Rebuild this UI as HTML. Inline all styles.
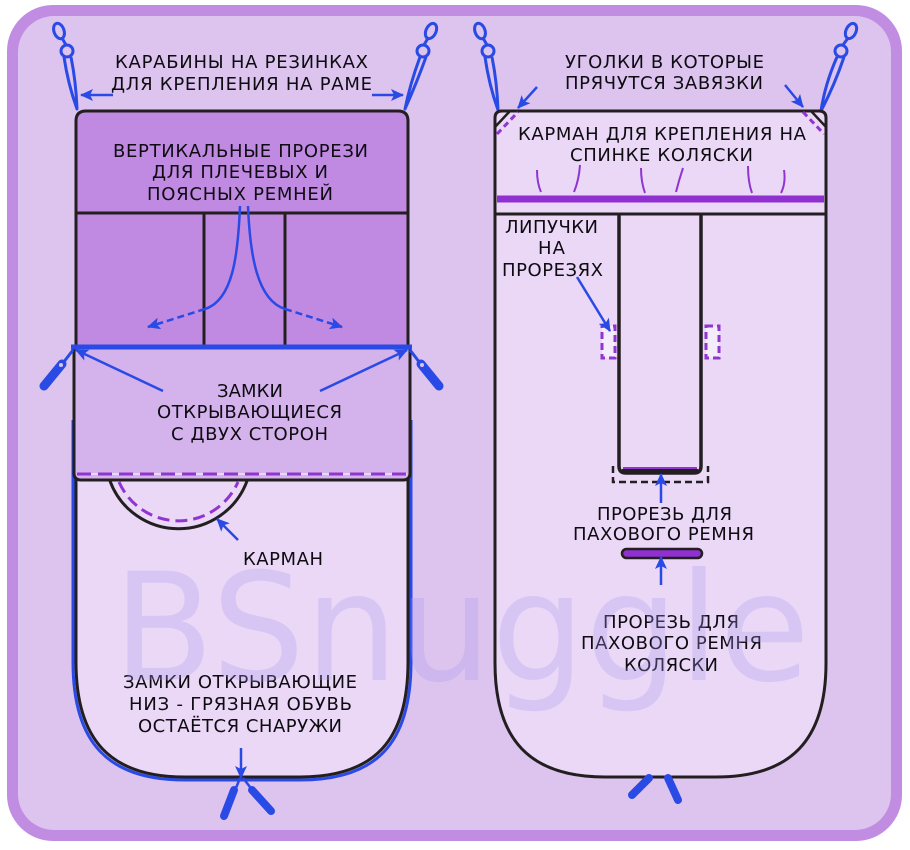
<!DOCTYPE html>
<html><head><meta charset="utf-8"><style>
html,body{margin:0;padding:0;background:#fff;}
svg{display:block;}
text{font-family:"DejaVu Sans","Liberation Sans",sans-serif;font-size:18px;fill:#0e0c12;}
</style></head><body>
<svg width="910" height="850" viewBox="0 0 910 850" xmlns="http://www.w3.org/2000/svg">
<defs>
<marker id="ah" markerUnits="userSpaceOnUse" markerWidth="14" markerHeight="12" refX="12" refY="6" orient="auto">
<path d="M0,0 L13,6 L0,12 L3,6 Z" fill="#2a4ae6"/>
</marker>
</defs>
<rect x="0" y="0" width="910" height="850" fill="#fff"/>
<rect x="7" y="5" width="895" height="836" rx="46" fill="#c18de2"/>
<rect x="18" y="16" width="873" height="814" rx="36" fill="#dcc4ee"/>

<!-- LEFT PANEL -->
<path d="M73,420 V662 C73,743 108,780 185,780 H300 C377,780 411,743 411,662 V420" fill="none" stroke="#2a4ae6" stroke-width="3"/>
<path d="M76,347 V662 C76,740 110,777 185,777 H300 C375,777 408,740 408,662 V347 Z" fill="#ead8f6" stroke="#231f20" stroke-width="3"/>
<path d="M86,111 H398 Q408,111 408,121 V347 H76 V121 Q76,111 86,111 Z" fill="#c08ae2" stroke="#231f20" stroke-width="3"/>
<line x1="76" y1="213" x2="408" y2="213" stroke="#231f20" stroke-width="3"/>
<line x1="204" y1="213" x2="204" y2="347" stroke="#231f20" stroke-width="3"/>
<line x1="285" y1="213" x2="285" y2="347" stroke="#231f20" stroke-width="3"/>
<!-- pocket -->
<path d="M110,481 A73,73 0 0 0 247,481" fill="#ead8f6" stroke="#231f20" stroke-width="3"/>
<path d="M119,482 A65,65 0 0 0 238,482" fill="none" stroke="#9035cf" stroke-width="3" stroke-dasharray="12 6"/>
<!-- zipper flap -->
<path d="M74,347 H410 V473 Q410,480 403,480 H81 Q74,480 74,473 Z" fill="#d4b3ec" stroke="#231f20" stroke-width="3"/>
<line x1="77" y1="474" x2="407" y2="474" stroke="#fff" stroke-width="1"/>
<line x1="77" y1="474" x2="407" y2="474" stroke="#9035cf" stroke-width="3" stroke-dasharray="14 7"/>
<!-- blue zipper top line -->
<line x1="71" y1="347" x2="412" y2="347" stroke="#2a4ae6" stroke-width="5"/>

<!-- curvy arrows -->
<path d="M240,206 C238,255 233,300 205,309" fill="none" stroke="#2a4ae6" stroke-width="2.5"/>
<path d="M205,309 L148,327" fill="none" stroke="#2a4ae6" stroke-width="2.5" stroke-dasharray="7 4" marker-end="url(#ah)"/>
<path d="M248,206 C250,255 257,300 285,309" fill="none" stroke="#2a4ae6" stroke-width="2.5"/>
<path d="M285,309 L342,327" fill="none" stroke="#2a4ae6" stroke-width="2.5" stroke-dasharray="7 4" marker-end="url(#ah)"/>

<!-- zipper arrows -->
<line x1="163" y1="391" x2="76" y2="350" stroke="#2a4ae6" stroke-width="2.5" marker-end="url(#ah)"/>
<line x1="320" y1="391" x2="407" y2="350" stroke="#2a4ae6" stroke-width="2.5" marker-end="url(#ah)"/>
<!-- side pulls -->
<line x1="73" y1="350" x2="63" y2="363" stroke="#2a4ae6" stroke-width="3"/>
<line x1="62" y1="364" x2="44" y2="386" stroke="#2a4ae6" stroke-width="9" stroke-linecap="round"/>
<circle cx="61" cy="365" r="2" fill="#dcc4ee"/>
<line x1="410" y1="350" x2="420" y2="363" stroke="#2a4ae6" stroke-width="3"/>
<line x1="421" y1="364" x2="439" y2="386" stroke="#2a4ae6" stroke-width="9" stroke-linecap="round"/>
<circle cx="422" cy="365" r="2" fill="#dcc4ee"/>

<!-- pocket arrow -->
<line x1="238" y1="540" x2="217" y2="519" stroke="#2a4ae6" stroke-width="2.5" marker-end="url(#ah)"/>
<!-- bottom arrow and pulls -->
<line x1="241" y1="748" x2="241" y2="778" stroke="#2a4ae6" stroke-width="2.5" marker-end="url(#ah)"/>
<line x1="240" y1="778" x2="236" y2="788" stroke="#2a4ae6" stroke-width="2.5"/>
<line x1="234" y1="790" x2="224" y2="816" stroke="#2a4ae6" stroke-width="8" stroke-linecap="round"/>
<line x1="243" y1="778" x2="250" y2="787" stroke="#2a4ae6" stroke-width="2.5"/>
<line x1="252" y1="790" x2="271" y2="811" stroke="#2a4ae6" stroke-width="8" stroke-linecap="round"/>

<!-- carabiners -->
<g fill="none" stroke="#2a4ae6" stroke-width="3" stroke-linejoin="round">
<!-- left panel left -->
<ellipse cx="59" cy="31" rx="5" ry="8" transform="rotate(-20 59 31)"/>
<line x1="62" y1="38" x2="66" y2="45"/>
<circle cx="67" cy="51" r="6" fill="#dcc4ee"/>
<path d="M64,57 Q68,84 77,109 Q76,82 71,57"/>
<!-- left panel right -->
<ellipse cx="431" cy="31" rx="5" ry="8" transform="rotate(25 431 31)"/>
<line x1="428" y1="38" x2="424" y2="45"/>
<circle cx="423" cy="51" r="6" fill="#dcc4ee"/>
<path d="M420,57 Q410,84 405,109 Q417,82 426,57"/>
<!-- right panel left -->
<ellipse cx="480" cy="31" rx="5" ry="8" transform="rotate(-20 480 31)"/>
<line x1="483" y1="38" x2="487" y2="45"/>
<circle cx="488" cy="51" r="6" fill="#dcc4ee"/>
<path d="M485,57 Q489,85 498,110 Q497,82 492,57"/>
<!-- right panel right -->
<ellipse cx="851" cy="31" rx="5" ry="8" transform="rotate(25 851 31)"/>
<line x1="848" y1="38" x2="843" y2="45"/>
<circle cx="841" cy="51" r="6" fill="#dcc4ee"/>
<path d="M837,57 Q825,84 821,111 Q835,84 844,57"/>
</g>
<line x1="113" y1="95" x2="81" y2="95" stroke="#2a4ae6" stroke-width="2.5" marker-end="url(#ah)"/>
<line x1="372" y1="95" x2="403" y2="95" stroke="#2a4ae6" stroke-width="2.5" marker-end="url(#ah)"/>

<!-- RIGHT PANEL -->
<path d="M495,118 Q495,111 502,111 H819 Q826,111 826,118 V663 C826,740 791,777 716,777 H605 C530,777 495,740 495,663 Z" fill="#ead8f6" stroke="#231f20" stroke-width="3"/>
<line x1="495" y1="127" x2="510" y2="111" stroke="#231f20" stroke-width="2.5"/>
<line x1="811" y1="111" x2="826" y2="127" stroke="#231f20" stroke-width="2.5"/>
<line x1="497" y1="134" x2="518" y2="112" stroke="#9035cf" stroke-width="3" stroke-dasharray="6 4"/>
<line x1="803" y1="112" x2="824" y2="134" stroke="#9035cf" stroke-width="3" stroke-dasharray="6 4"/>
<line x1="497" y1="199" x2="824" y2="199" stroke="#9030d0" stroke-width="7"/>
<line x1="495" y1="214" x2="826" y2="214" stroke="#231f20" stroke-width="3"/>
<!-- stitch marks -->
<g fill="none" stroke="#9035cf" stroke-width="2">
<path d="M537,170 Q537,183 541,192"/>
<path d="M580,165 Q579,180 574,192"/>
<path d="M641,168 Q641,182 645,193"/>
<path d="M683,168 Q679,180 676,192"/>
<path d="M748,166 Q748,182 752,193"/>
<path d="M784,170 Q786,183 781,193"/>
</g>
<!-- center strip -->
<path d="M613,466 V482 H708 V466" fill="none" stroke="#231f20" stroke-width="2.5" stroke-dasharray="7 4"/>
<path d="M619,214 V466 Q619,473 626,473 H694 Q701,473 701,466 V214" fill="none" stroke="#231f20" stroke-width="3.5"/>
<line x1="622" y1="471" x2="698" y2="471" stroke="#231f20" stroke-width="4"/>
<line x1="623" y1="468" x2="697" y2="468" stroke="#9035cf" stroke-width="2"/>
<!-- velcro -->
<rect x="602" y="326" width="13" height="32" fill="#f4ecfa" stroke="#9035cf" stroke-width="3" stroke-dasharray="7 4"/>
<rect x="706" y="326" width="13" height="32" fill="#f4ecfa" stroke="#9035cf" stroke-width="3" stroke-dasharray="7 4"/>
<!-- slot -->
<rect x="622" y="549" width="80" height="9" rx="4.5" fill="#9030d0" stroke="#231f20" stroke-width="2.5"/>
<!-- arrows right -->
<line x1="577" y1="277" x2="610" y2="331" stroke="#2a4ae6" stroke-width="2.5" marker-end="url(#ah)"/>
<line x1="661" y1="503" x2="661" y2="474" stroke="#2a4ae6" stroke-width="2.5" marker-end="url(#ah)"/>
<line x1="661" y1="585" x2="661" y2="557" stroke="#2a4ae6" stroke-width="2.5" marker-end="url(#ah)"/>
<line x1="537" y1="87" x2="518" y2="108" stroke="#2a4ae6" stroke-width="2.5" marker-end="url(#ah)"/>
<line x1="785" y1="85" x2="803" y2="107" stroke="#2a4ae6" stroke-width="2.5" marker-end="url(#ah)"/>
<!-- bottom pulls right -->
<line x1="649" y1="778" x2="632" y2="795" stroke="#2a4ae6" stroke-width="8" stroke-linecap="round"/>
<line x1="668" y1="778" x2="678" y2="800" stroke="#2a4ae6" stroke-width="8" stroke-linecap="round"/>

<!-- TEXT -->
<text x="115" y="68" textLength="253" lengthAdjust="spacing">КАРАБИНЫ НА РЕЗИНКАХ</text>
<text x="111" y="90" textLength="261" lengthAdjust="spacing">ДЛЯ КРЕПЛЕНИЯ НА РАМЕ</text>
<text x="113" y="157" textLength="255" lengthAdjust="spacing">ВЕРТИКАЛЬНЫЕ ПРОРЕЗИ</text>
<text x="152" y="178" textLength="176" lengthAdjust="spacing">ДЛЯ ПЛЕЧЕВЫХ И</text>
<text x="147" y="200" textLength="186" lengthAdjust="spacing">ПОЯСНЫХ РЕМНЕЙ</text>
<text x="217" y="397" textLength="66" lengthAdjust="spacing">ЗАМКИ</text>
<text x="157" y="418" textLength="185" lengthAdjust="spacing">ОТКРЫВАЮЩИЕСЯ</text>
<text x="171" y="440" textLength="157" lengthAdjust="spacing">С ДВУХ СТОРОН</text>
<text x="243" y="565" textLength="80" lengthAdjust="spacing">КАРМАН</text>
<text x="123" y="688" textLength="234" lengthAdjust="spacing">ЗАМКИ ОТКРЫВАЮЩИЕ</text>
<text x="129" y="710" textLength="223" lengthAdjust="spacing">НИЗ - ГРЯЗНАЯ ОБУВЬ</text>
<text x="138" y="732" textLength="204" lengthAdjust="spacing">ОСТАЁТСЯ СНАРУЖИ</text>

<text x="565" y="68" textLength="199" lengthAdjust="spacing">УГОЛКИ В КОТОРЫЕ</text>
<text x="565" y="89" textLength="198" lengthAdjust="spacing">ПРЯЧУТСЯ ЗАВЯЗКИ</text>
<text x="518" y="140" textLength="288" lengthAdjust="spacing">КАРМАН ДЛЯ КРЕПЛЕНИЯ НА</text>
<text x="570" y="161" textLength="183" lengthAdjust="spacing">СПИНКЕ КОЛЯСКИ</text>
<text x="505" y="233" textLength="93" lengthAdjust="spacing">ЛИПУЧКИ</text>
<text x="538" y="254" textLength="27" lengthAdjust="spacing">НА</text>
<text x="502" y="276" textLength="101" lengthAdjust="spacing">ПРОРЕЗЯХ</text>
<text x="597" y="520" textLength="135" lengthAdjust="spacing">ПРОРЕЗЬ ДЛЯ</text>
<text x="573" y="540" textLength="181" lengthAdjust="spacing">ПАХОВОГО РЕМНЯ</text>
<text x="603" y="628" textLength="136" lengthAdjust="spacing">ПРОРЕЗЬ ДЛЯ</text>
<text x="581" y="649" textLength="181" lengthAdjust="spacing">ПАХОВОГО РЕМНЯ</text>
<text x="624" y="671" textLength="94" lengthAdjust="spacing">КОЛЯСКИ</text>

<!-- watermark -->
<text x="113" y="680" textLength="697" lengthAdjust="spacingAndGlyphs" style="font-size:150px;fill:#a898f0;opacity:0.28">BSnuggle</text>
</svg>
</body></html>
